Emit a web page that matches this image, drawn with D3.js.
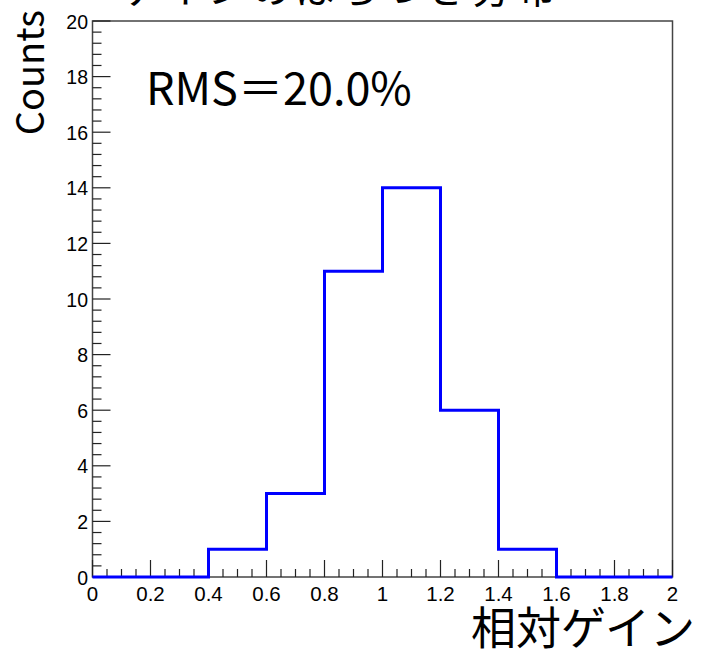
<!DOCTYPE html>
<html><head><meta charset="utf-8">
<script src="https://cdn.jsdelivr.net/npm/d3@7"></script>
<style>body{margin:0;background:#fff}svg{display:block}</style>
</head><body>
<script>
const binEdges = [0,0.2,0.4,0.6,0.8,1.0,1.2,1.4,1.6,1.8,2.0];
const counts = [0,0,1,3,11,14,6,1,0,0];
const xTickLabels = ["0","0.2","0.4","0.6","0.8","1","1.2","1.4","1.6","1.8","2"];
const yTickLabels = ["0","2","4","6","8","10","12","14","16","18","20"];
const titleText = "ゲインのばらつき分布";
const xLabel = "相対ゲイン";
const yLabel = "Counts";
const statText = "RMS＝20.0%";

const W=704,H=654;
const L=92.5,R=672.5,T=21,B=577;
const svg=d3.select("body").append("svg").attr("width",W).attr("height",H);
const x=d3.scaleLinear().domain([0,2]).range([L,R]);
const y=d3.scaleLinear().domain([0,20]).range([B,T]);
const tickFont="'Liberation Sans', Arial, sans-serif";
const jpFont="'Noto Sans CJK JP', sans-serif";

// title (cut off at top)
svg.append("text").attr("x",340).attr("y",3).attr("text-anchor","middle")
  .attr("font-family",jpFont).attr("font-size",40).attr("letter-spacing",4).attr("fill","#000").text(titleText);

// frame
svg.append("rect").attr("x",L).attr("y",T).attr("width",R-L).attr("height",B-T)
  .attr("fill","none").attr("stroke","#444").attr("stroke-width",1.5);

// x ticks (inward)
const xMinor=d3.range(0,41).map(i=>i*0.05);
svg.append("g").selectAll("line").data(xMinor).join("line")
  .attr("x1",d=>x(d)).attr("x2",d=>x(d)).attr("y1",B)
  .attr("y2",(d,i)=>B-(i%4===0?17:8)).attr("stroke","#222").attr("stroke-width",1.2);
svg.append("g").selectAll("text").data(xTickLabels).join("text")
  .attr("x",(d,i)=>x(i*0.2)).attr("y",B+24).attr("text-anchor","middle")
  .attr("font-family",tickFont).attr("font-size",20.5).attr("fill","#000").text(d=>d);

// y ticks (inward)
const yMinor=d3.range(0,51).map(i=>i*0.4);
svg.append("g").selectAll("line").data(yMinor).join("line")
  .attr("y1",d=>y(d)).attr("y2",d=>y(d)).attr("x1",L)
  .attr("x2",(d,i)=>L+(i%5===0?18:9)).attr("stroke","#222").attr("stroke-width",1.2);
svg.append("g").selectAll("text").data(yTickLabels).join("text")
  .attr("x",L-4.5).attr("y",(d,i)=>y(i*2)+7.5).attr("text-anchor","end")
  .attr("font-family",tickFont).attr("font-size",19.5).attr("fill","#000").text(d=>d);

// histogram step line
const pts=[[binEdges[0],0]];
counts.forEach((c,i)=>{pts.push([binEdges[i],c]);pts.push([binEdges[i+1],c]);});
pts.push([binEdges[binEdges.length-1],0]);
svg.append("path").attr("d",d3.line().x(d=>x(d[0])).y(d=>y(d[1]))(pts))
  .attr("fill","none").attr("stroke","#0000ff").attr("stroke-width",3);

// stat text
svg.append("text").attr("x",146).attr("y",105).attr("font-family",jpFont)
  .attr("font-size",45).attr("fill","#000").text(statText);

// axis labels
svg.append("text").attr("x",695).attr("y",645).attr("text-anchor","end")
  .attr("font-family",jpFont).attr("font-size",45).attr("fill","#000").text(xLabel);
svg.append("text").attr("transform","translate(44,10) rotate(-90)").attr("text-anchor","end")
  .attr("font-family",jpFont).attr("font-size",38).attr("fill","#000").text(yLabel);
</script>
</body></html>
